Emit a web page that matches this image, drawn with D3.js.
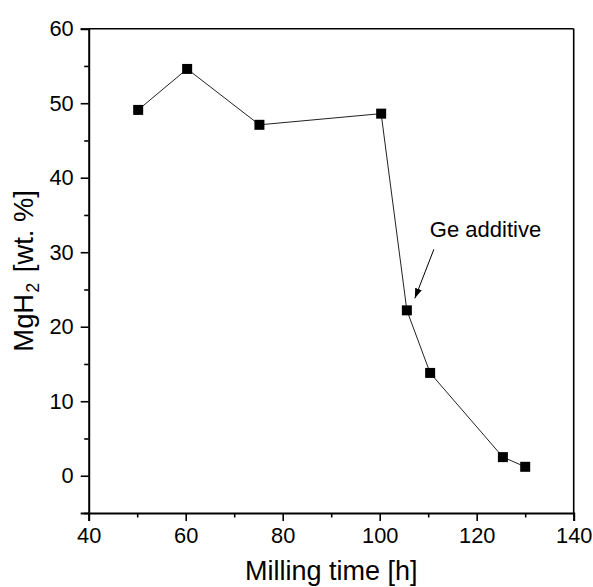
<!DOCTYPE html>
<html><head><meta charset="utf-8">
<script src="https://cdn.jsdelivr.net/npm/d3@7"></script>
<style>body{margin:0;background:#fff}svg{display:block}text{font-family:"Liberation Sans",Arial,sans-serif;fill:#000}</style>
</head><body><div id="c"></div>
<script>
const millingTime = [50.2, 60.3, 75.2, 100.3, 105.6, 110.4, 125.4, 130.0];
const mgh2 = [49.1, 54.6, 47.1, 48.6, 22.2, 13.8, 2.5, 1.2];
const xTicks = [40, 60, 80, 100, 120, 140];
const yTicks = [0, 10, 20, 30, 40, 50, 60];
const xMinor = [50, 70, 90, 110, 130];
const yMinor = [-5, 5, 15, 25, 35, 45, 55];
const annotation = {text: "Ge additive", x: 105.6, y: 22.2};

const W = 593, H = 587;
const m = {l: 88.7, r: 593 - 573.7, t: 28.7, b: 587 - 513};
const svg = d3.select("#c").append("svg").attr("width", W).attr("height", H);
const x = d3.scaleLinear().domain([40, 140]).range([m.l, W - m.r]);
const y = d3.scaleLinear().domain([-5, 60]).range([H - m.b, m.t]);
const FONT = '"Liberation Sans",Arial,sans-serif';

// frame top/right
svg.append("line").attr("x1", x(40)).attr("x2", x(140)).attr("y1", y(60)).attr("y2", y(60)).attr("stroke", "#000").attr("stroke-width", 1.6);
svg.append("line").attr("x1", x(140)).attr("x2", x(140)).attr("y1", y(60)).attr("y2", y(-5)).attr("stroke", "#000").attr("stroke-width", 1.6);

// x axis
const gx = svg.append("g").attr("transform", `translate(0,${y(-5)})`)
  .call(d3.axisBottom(x).tickValues(xTicks).tickSize(8).tickPadding(7).tickFormat(d3.format("d")));
gx.selectAll(".tick text").attr("font-size", 21.8).style("font-family", FONT);
const gxm = svg.append("g").attr("transform", `translate(0,${y(-5)})`)
  .call(d3.axisBottom(x).tickValues(xMinor).tickSize(4.5).tickFormat(""));
gxm.select(".domain").remove();

// y axis
const gy = svg.append("g").attr("transform", `translate(${x(40)},0)`)
  .call(d3.axisLeft(y).tickValues(yTicks).tickSize(8).tickPadding(7).tickFormat(d3.format("d")));
gy.selectAll(".tick text").attr("font-size", 21.8).style("font-family", FONT);
const gym = svg.append("g").attr("transform", `translate(${x(40)},0)`)
  .call(d3.axisLeft(y).tickValues(yMinor).tickSize(4.5).tickFormat(""));
gym.select(".domain").remove();

svg.selectAll(".domain").attr("stroke-width", 2).attr("stroke", "#000");
svg.selectAll(".tick line").attr("stroke-width", 1.6).attr("stroke", "#000");

// data line
const pts = millingTime.map((t, i) => [t, mgh2[i]]);
svg.append("path").datum(pts)
  .attr("d", d3.line().x(d => x(d[0])).y(d => y(d[1])))
  .attr("fill", "none").attr("stroke", "#222").attr("stroke-width", 1);
svg.selectAll("rect.pt").data(pts).enter().append("rect").attr("class", "pt")
  .attr("x", d => x(d[0]) - 5).attr("y", d => y(d[1]) - 5)
  .attr("width", 10).attr("height", 10).attr("fill", "#000");

// annotation
svg.append("defs").append("marker").attr("id", "ah").attr("viewBox", "0 0 10 10")
  .attr("refX", 10).attr("refY", 5).attr("markerWidth", 10).attr("markerHeight", 10)
  .attr("markerUnits", "userSpaceOnUse").attr("orient", "auto")
  .append("path").attr("d", "M0,1.5 L10,5 L0,8.5 Z").attr("fill", "#000");
const ax = x(annotation.x), ay = y(annotation.y);
svg.append("line").attr("x1", ax + 27).attr("y1", ay - 61).attr("x2", ax + 8).attr("y2", ay - 12)
  .attr("stroke", "#000").attr("stroke-width", 1).attr("marker-end", "url(#ah)");
svg.append("text").attr("x", ax + 23).attr("y", ay - 73).attr("font-size", 22).text(annotation.text);

// titles
svg.append("text").attr("x", (x(40) + x(140)) / 2).attr("y", 580).attr("text-anchor", "middle")
  .attr("font-size", 27).text("Milling time [h]");
const yt = svg.append("text").attr("transform", `translate(33,${(y(-5) + y(60)) / 2}) rotate(-90)`)
  .attr("text-anchor", "middle").attr("font-size", 27.4);
yt.append("tspan").text("MgH");
yt.append("tspan").attr("font-size", 18).attr("dy", 6).attr("dx", 1).text("2");
yt.append("tspan").attr("dy", -6).attr("dx", 3).text(" [wt. %]");
</script></body></html>
